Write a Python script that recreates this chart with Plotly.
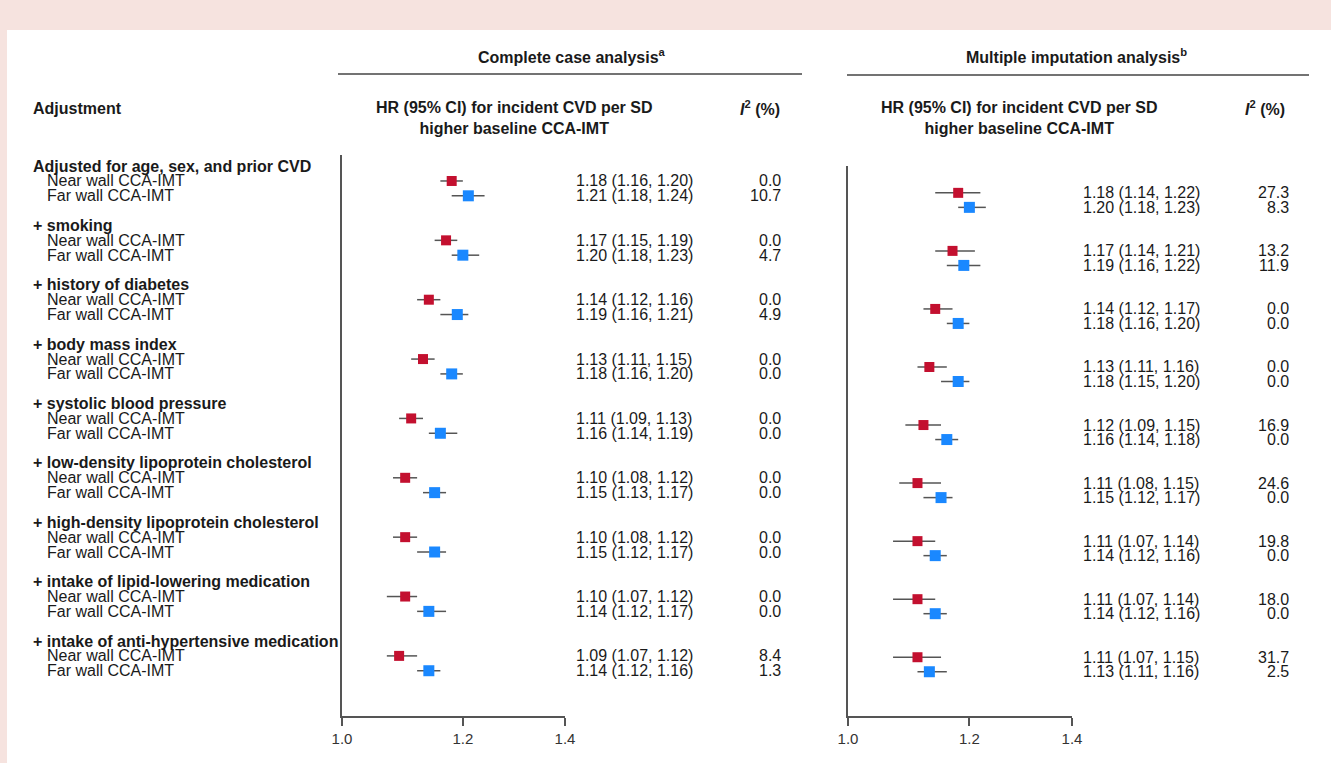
import plotly.graph_objects as go
import math

W, H = 1331, 763

# ---------------- data ----------------
adjustments = [
    "Adjusted for age, sex, and prior CVD",
    "+ smoking",
    "+ history of diabetes",
    "+ body mass index",
    "+ systolic blood pressure",
    "+ low-density lipoprotein cholesterol",
    "+ high-density lipoprotein cholesterol",
    "+ intake of lipid-lowering medication",
    "+ intake of anti-hypertensive medication",
]
wall_labels = ["Near wall CCA-IMT", "Far wall CCA-IMT"]

# Complete case analysis
cc_near_hr = [1.18, 1.17, 1.14, 1.13, 1.11, 1.10, 1.10, 1.10, 1.09]
cc_near_lo = [1.16, 1.15, 1.12, 1.11, 1.09, 1.08, 1.08, 1.07, 1.07]
cc_near_hi = [1.20, 1.19, 1.16, 1.15, 1.13, 1.12, 1.12, 1.12, 1.12]
cc_near_i2 = [0.0, 0.0, 0.0, 0.0, 0.0, 0.0, 0.0, 0.0, 8.4]
cc_far_hr = [1.21, 1.20, 1.19, 1.18, 1.16, 1.15, 1.15, 1.14, 1.14]
cc_far_lo = [1.18, 1.18, 1.16, 1.16, 1.14, 1.13, 1.12, 1.12, 1.12]
cc_far_hi = [1.24, 1.23, 1.21, 1.20, 1.19, 1.17, 1.17, 1.17, 1.16]
cc_far_i2 = [10.7, 4.7, 4.9, 0.0, 0.0, 0.0, 0.0, 0.0, 1.3]

# Multiple imputation analysis
mi_near_hr = [1.18, 1.17, 1.14, 1.13, 1.12, 1.11, 1.11, 1.11, 1.11]
mi_near_lo = [1.14, 1.14, 1.12, 1.11, 1.09, 1.08, 1.07, 1.07, 1.07]
mi_near_hi = [1.22, 1.21, 1.17, 1.16, 1.15, 1.15, 1.14, 1.14, 1.15]
mi_near_i2 = [27.3, 13.2, 0.0, 0.0, 16.9, 24.6, 19.8, 18.0, 31.7]
mi_far_hr = [1.20, 1.19, 1.18, 1.18, 1.16, 1.15, 1.14, 1.14, 1.13]
mi_far_lo = [1.18, 1.16, 1.16, 1.15, 1.14, 1.12, 1.12, 1.12, 1.11]
mi_far_hi = [1.23, 1.22, 1.20, 1.20, 1.18, 1.17, 1.16, 1.16, 1.16]
mi_far_i2 = [8.3, 11.9, 0.0, 0.0, 0.0, 0.0, 0.0, 0.0, 2.5]

x_tickvals = [1.0, 1.2, 1.4]
x_ticktext = ["1.0", "1.2", "1.4"]

# ---------------- style ----------------
FONT = "Liberation Sans, Arial, Helvetica, sans-serif"
RED = "#C3102F"
BLUE = "#1A88FF"
CI_COL = "#555555"
AX_COL = "#555555"
TXT = "#1a1a1a"
PINK = "#F6E3DF"


def fx(px):
    return px / W


def fy(py):
    return 1 - py / H


n = len(adjustments)
near_pos = [4 * g + 1 for g in range(n)]
far_pos = [4 * g + 2 for g in range(n)]
head_pos = [4 * g for g in range(n)]

fig = go.Figure()


def add_series(hr, lo, hi, ypos, color, size, xa, ya):
    fig.add_trace(go.Scatter(
        x=hr, y=ypos, mode="markers",
        marker=dict(symbol="square", size=size, color=color, line=dict(width=0)),
        error_x=dict(type="data", symmetric=False,
                     array=[h - v for h, v in zip(hi, hr)],
                     arrayminus=[v - l for v, l in zip(hr, lo)],
                     color=CI_COL, thickness=1.5, width=0),
        xaxis=xa, yaxis=ya, showlegend=False, hoverinfo="skip",
    ))


add_series(cc_near_hr, cc_near_lo, cc_near_hi, near_pos, RED, 10, "x", "y")
add_series(cc_far_hr, cc_far_lo, cc_far_hi, far_pos, BLUE, 11, "x", "y")
add_series(mi_near_hr, mi_near_lo, mi_near_hi, near_pos, RED, 10, "x2", "y2")
add_series(mi_far_hr, mi_far_lo, mi_far_hi, far_pos, BLUE, 11, "x2", "y2")

ann = []


def A(text, x, y, xref="paper", yref="paper", xanchor="left", size=16, bold=False, color=TXT, yanchor="middle", align="left"):
    if bold:
        text = "<b>" + text + "</b>"
    ann.append(dict(text=text, x=x, y=y, xref=xref, yref=yref, xanchor=xanchor,
                    yanchor=yanchor, showarrow=False, align=align, borderpad=0,
                    font=dict(family=FONT, size=size, color=color)))


# row labels (aligned with left panel rows)
for g in range(n):
    A(adjustments[g], fx(32), head_pos[g], yref="y", bold=True)
    A(wall_labels[0], fx(46), near_pos[g], yref="y")
    A(wall_labels[1], fx(46), far_pos[g], yref="y")


def fmt(h, l, u):
    return f"{h:.2f} ({l:.2f}, {u:.2f})"


# value columns
for g in range(n):
    A(fmt(cc_near_hr[g], cc_near_lo[g], cc_near_hi[g]), fx(575), near_pos[g], yref="y")
    A(fmt(cc_far_hr[g], cc_far_lo[g], cc_far_hi[g]), fx(575), far_pos[g], yref="y")
    A(f"{cc_near_i2[g]:.1f}", fx(782), near_pos[g], yref="y", xanchor="right")
    A(f"{cc_far_i2[g]:.1f}", fx(782), far_pos[g], yref="y", xanchor="right")
    A(fmt(mi_near_hr[g], mi_near_lo[g], mi_near_hi[g]), fx(1082), near_pos[g], yref="y2")
    A(fmt(mi_far_hr[g], mi_far_lo[g], mi_far_hi[g]), fx(1082), far_pos[g], yref="y2")
    A(f"{mi_near_i2[g]:.1f}", fx(1290), near_pos[g], yref="y2", xanchor="right")
    A(f"{mi_far_i2[g]:.1f}", fx(1290), far_pos[g], yref="y2", xanchor="right")

# headers
A("Adjustment", fx(32), fy(108), bold=True)
A("Complete case analysis<sup>a</sup>", fx(572), fy(56), xanchor="center", bold=True, size=16)
A("Multiple imputation analysis<sup>b</sup>", fx(1076), fy(56), xanchor="center", bold=True, size=16)
A("HR (95% CI) for incident CVD per SD<br>higher baseline CCA-IMT", fx(514), fy(118),
  xanchor="center", bold=True, align="center")
A("HR (95% CI) for incident CVD per SD<br>higher baseline CCA-IMT", fx(1019), fy(118),
  xanchor="center", bold=True, align="center")
A("<i>I</i><sup>2</sup> (%)", fx(781), fy(108), xanchor="right", bold=True)
A("<i>I</i><sup>2</sup> (%)", fx(1286), fy(108), xanchor="right", bold=True)

shapes = [
    dict(type="rect", xref="paper", yref="paper", x0=fx(7), x1=1, y0=0, y1=fy(30),
         fillcolor="white", line=dict(width=0), layer="below"),
    dict(type="line", xref="paper", yref="paper", x0=fx(338), x1=fx(802), y0=fy(74), y1=fy(74),
         line=dict(color="#444", width=1.3)),
    dict(type="line", xref="paper", yref="paper", x0=fx(847), x1=fx(1309), y0=fy(75), y1=fy(75),
         line=dict(color="#444", width=1.3)),
]

xcommon = dict(type="log", range=[0, math.log10(1.4)], tickvals=x_tickvals, ticktext=x_ticktext,
               showline=True, linecolor=AX_COL, linewidth=1.5, ticks="outside", ticklen=8,
               tickcolor=AX_COL, tickwidth=1.5, showgrid=False, zeroline=False, automargin=False,
               tickfont=dict(family=FONT, size=15, color="#333"), fixedrange=True)
ycommon = dict(range=[37.05, -0.75], showline=True, linecolor=AX_COL, linewidth=1.5,
               showticklabels=False, ticks="", showgrid=False, zeroline=False, fixedrange=True,
               automargin=False)

fig.update_layout(
    template="none",
    width=W, height=H, autosize=False,
    margin=dict(l=0, r=0, t=0, b=0, pad=0, autoexpand=False),
    paper_bgcolor=PINK, plot_bgcolor="rgba(0,0,0,0)",
    xaxis=dict(domain=[fx(342), fx(565)], anchor="y", **xcommon),
    yaxis=dict(domain=[fy(716), fy(155)], anchor="x", **ycommon),
    xaxis2=dict(domain=[fx(848), fx(1072)], anchor="y2", **xcommon),
    yaxis2=dict(domain=[fy(716), fy(166)], anchor="x2", **{**ycommon, "range": [37.05, -0.85]}),
    annotations=ann, shapes=shapes,
    font=dict(family=FONT, color=TXT),
)

fig.write_html(
    "out.html",
    config={"displayModeBar": False, "responsive": False},
    post_script="document.documentElement.style.margin='0';document.documentElement.style.overflow='hidden';"
                "document.body.style.margin='0';document.body.style.padding='0';"
                "document.body.style.overflow='hidden';document.body.style.background='#FFFFFF';",
)
